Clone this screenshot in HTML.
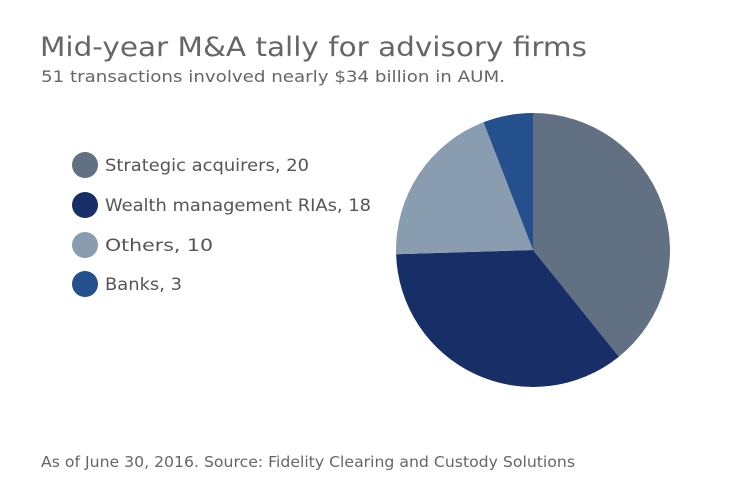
<!DOCTYPE html>
<html><head><meta charset="utf-8"><style>
html,body{margin:0;padding:0;background:#fff;}
svg{display:block;font-family:"DejaVu Sans","Liberation Sans",sans-serif;}
</style></head><body>
<svg width="740" height="482" viewBox="0 0 740 482">
<text x="40" y="56" font-size="27" fill="#666" textLength="547" lengthAdjust="spacingAndGlyphs">Mid-year M&amp;A tally for advisory firms</text>
<text x="41" y="82" font-size="16" fill="#666" textLength="464" lengthAdjust="spacingAndGlyphs">51 transactions involved nearly $34 billion in AUM.</text>
<circle cx="85" cy="165" r="13" fill="#627084"/>
<text x="105" y="171" font-size="17" fill="#555" textLength="204" lengthAdjust="spacingAndGlyphs">Strategic acquirers, 20</text>
<circle cx="85" cy="205" r="13" fill="#172F66"/>
<text x="105" y="211" font-size="17" fill="#555" textLength="266" lengthAdjust="spacingAndGlyphs">Wealth management RIAs, 18</text>
<circle cx="85" cy="245" r="13" fill="#8A9DB0"/>
<text x="105" y="251" font-size="17" fill="#555" textLength="108" lengthAdjust="spacingAndGlyphs">Others, 10</text>
<circle cx="85" cy="284" r="13" fill="#24508E"/>
<text x="105" y="290" font-size="17" fill="#555" textLength="77" lengthAdjust="spacingAndGlyphs">Banks, 3</text>
<path d="M533,250 L533,113 A137,137 0 0 1 618.9,356.7 Z" fill="#627084"/>
<path d="M533,250 L618.9,356.7 A137,137 0 0 1 396.1,254.2 Z" fill="#172F66"/>
<path d="M533,250 L396.1,254.2 A137,137 0 0 1 483.5,122.2 Z" fill="#8A9DB0"/>
<path d="M533,250 L483.5,122.2 A137,137 0 0 1 533,113 Z" fill="#24508E"/>
<text x="41" y="467" font-size="15" fill="#666" textLength="534" lengthAdjust="spacingAndGlyphs">As of June 30, 2016. Source: Fidelity Clearing and Custody Solutions</text>
</svg>
</body></html>
